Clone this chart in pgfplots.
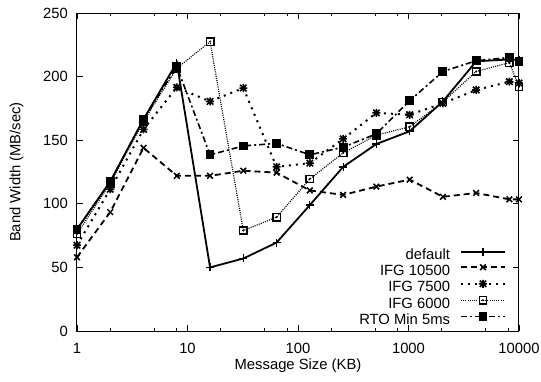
\documentclass[border=0pt]{standalone}
\usepackage{fontspec}
\setmainfont{Liberation Sans}
\usepackage{pgfplots}
\pgfplotsset{compat=1.18}

% gnuplot-style point types
\pgfdeclareplotmark{starcross}{%
  \pgfpathmoveto{\pgfqpoint{-\pgfplotmarksize}{0pt}}%
  \pgfpathlineto{\pgfqpoint{\pgfplotmarksize}{0pt}}%
  \pgfpathmoveto{\pgfqpoint{0pt}{-\pgfplotmarksize}}%
  \pgfpathlineto{\pgfqpoint{0pt}{\pgfplotmarksize}}%
  \pgfpathmoveto{\pgfqpoint{-0.8\pgfplotmarksize}{-0.8\pgfplotmarksize}}%
  \pgfpathlineto{\pgfqpoint{0.8\pgfplotmarksize}{0.8\pgfplotmarksize}}%
  \pgfpathmoveto{\pgfqpoint{-0.8\pgfplotmarksize}{0.8\pgfplotmarksize}}%
  \pgfpathlineto{\pgfqpoint{0.8\pgfplotmarksize}{-0.8\pgfplotmarksize}}%
  \pgfusepathqstroke}
\pgfdeclareplotmark{dotsquare}{%
  \pgfpathrectangle{\pgfqpoint{-\pgfplotmarksize}{-\pgfplotmarksize}}%
    {\pgfqpoint{2\pgfplotmarksize}{2\pgfplotmarksize}}%
  \pgfusepathqstroke
  \pgfpathcircle{\pgfpointorigin}{0.3\pgfplotmarksize}%
  \pgfusepathqfill}

\pgfplotstableread{
x      def    i10500  i7500  i6000  rto
1      80     58      67.5   76.5   80
2      117.5  93.5    111.5  116    117.5
4      166.5  144     158.5  165    166.5
8      211    122     191.5  206.5  208
16     50     122     180.5  227.5  138.5
32     57     126     191    79     145.5
64     69.5   124.5   129    89.5   147.5
128    99     110.5   132    119.5  138.5
256    129    107     151    140    144.5
512    147    113.5   171.5  154    155
1024   157    119     170    160.5  181
2048   180.5  105.5   179    180    204
4096   212    108.5   189.5  204    212.5
8192   213.5  103.5   196    211    215
10000  213    103.5   195    192    212
}\bw

\begin{document}
\begin{tikzpicture}[font=\fontsize{14.8pt}{17pt}\selectfont]
\begin{semilogxaxis}[
  name=ax,
  scale only axis,
  width=442pt, height=318pt,
  xmin=1, xmax=10000,
  ymin=0, ymax=250,
  xtick={1,10,100,1000,10000},
  xticklabels={1,10,100,1000,10000},
  minor xtick={2,5,8,20,50,80,200,500,800,2000,5000,8000},
  ytick={0,50,100,150,200,250},
  /pgf/number format/assume math mode=true,
  tick align=inside,
  major tick length=6pt,
  minor tick length=3pt,
  axis line style={line width=1pt},
  every tick/.style={black, line width=0.9pt},
  yticklabel style={anchor=east, inner sep=0pt, xshift=-9pt},
  xticklabel style={anchor=north, inner sep=0pt, yshift=-12pt},
  xlabel={Message Size (KB)},
  ylabel={Band Width (MB/sec)},
  xlabel style={at={(axis description cs:0.5,-0.110)}, anchor=center},
  ylabel style={at={(axis description cs:-0.137,0.5)}, anchor=center},
  clip=false,
  legend plot pos=right,
  legend cell align=right,
  legend style={draw=none, fill=none, inner sep=0pt, outer sep=0pt,
    at={(rel axis cs:1,0)}, anchor=south east, xshift=-13pt, yshift=2pt,
    column sep=10pt, row sep=0pt,
    nodes={inner sep=0pt, text height=10.6pt, text depth=4.65pt}},
  legend image code/.code={%
    \draw[mark repeat=2, mark phase=2, yshift=5pt, #1]
      plot coordinates {(0pt,0pt) (22pt,0pt) (44pt,0pt)};},
]
\addplot[black, line width=1.8pt, mark=+, mark size=4pt,
  mark options={solid, line width=1.2pt}]
  table[x=x, y=def] {\bw};
\addlegendentry{default}
\addplot[black, line width=1.8pt, dash pattern=on 6pt off 4pt, mark=x, mark size=4pt,
  mark options={solid, line width=1.5pt}]
  table[x=x, y=i10500] {\bw};
\addlegendentry{IFG 10500}
\addplot[black, line width=2pt, dash pattern=on 2pt off 5pt, mark=starcross, mark size=4pt,
  mark options={solid, line width=1.6pt}]
  table[x=x, y=i7500] {\bw};
\addlegendentry{IFG 7500}
\addplot[black, line width=1.2pt, dash pattern=on 1pt off 1.2pt, mark=dotsquare, mark size=3.7pt,
  mark options={solid, line width=1.5pt}]
  table[x=x, y=i6000] {\bw};
\addlegendentry{IFG 6000}
\addplot[black, line width=1.6pt, dash pattern=on 6pt off 3pt on 2pt off 3pt,
  mark=square*, mark size=3.6pt, mark options={solid}]
  table[x=x, y=rto] {\bw};
\addlegendentry{RTO Min 5ms}
\end{semilogxaxis}
\pgfresetboundingbox
\path[use as bounding box] (ax.south west) ++(-77pt,-50pt) rectangle ++(541pt,381pt);
\end{tikzpicture}
\end{document}
